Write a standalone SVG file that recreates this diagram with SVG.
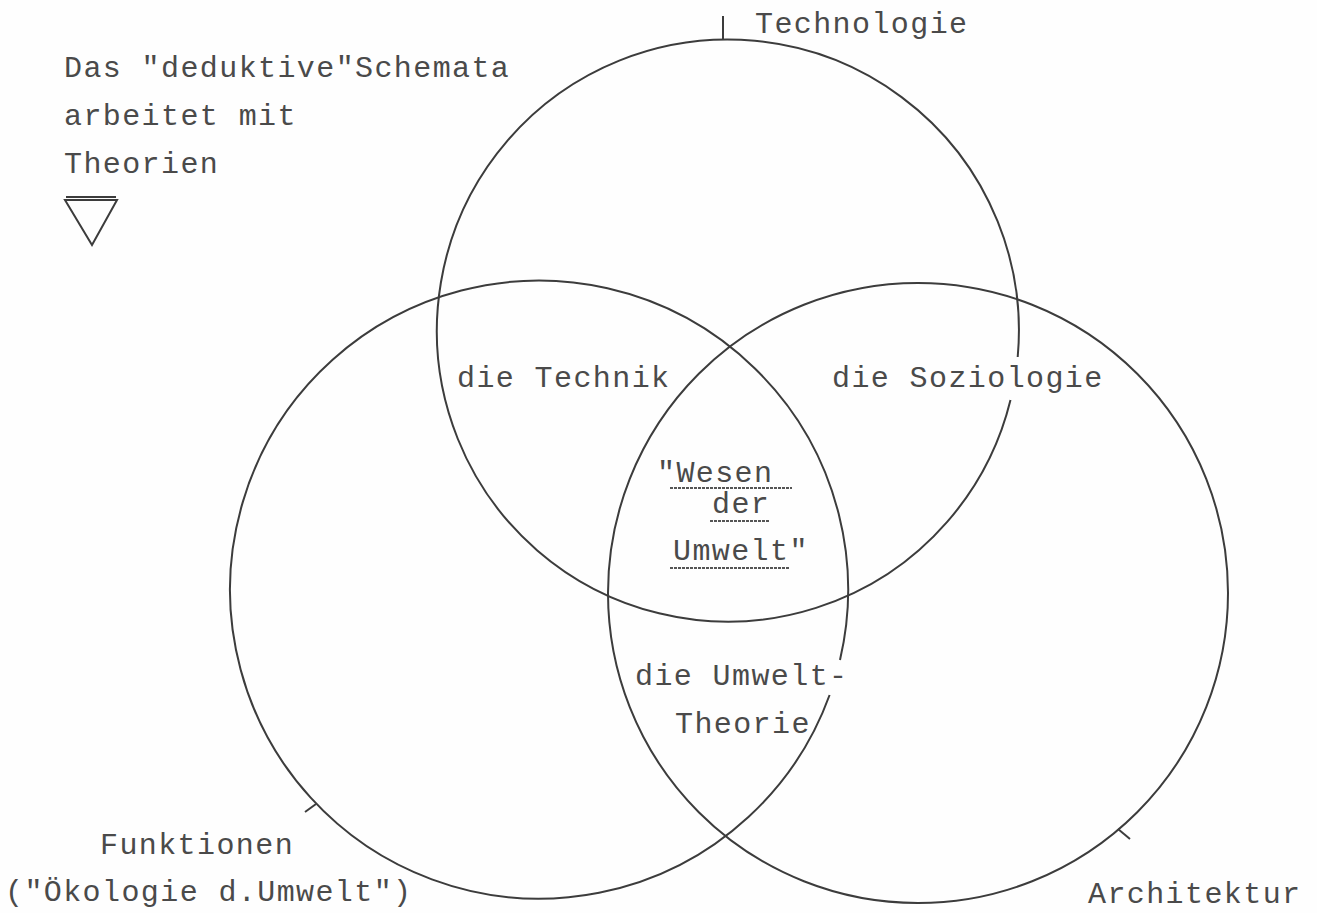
<svg xmlns="http://www.w3.org/2000/svg" width="1317" height="913" viewBox="0 0 1317 913">
<style>
.c{fill:none;stroke:#3c3c3c;stroke-width:2}
.t{font-family:"Liberation Mono","DejaVu Sans Mono",monospace;font-size:30px;letter-spacing:1.4px;fill:#4a4a4a}
.u{stroke:#555;stroke-width:2;stroke-dasharray:3 1}
</style>
<rect width="1317" height="913" fill="#fefefe"/>
<g id="intro">
<text class="t" x="64" y="77">Das "deduktive"Schemata</text>
<text class="t" x="64" y="125">arbeitet mit</text>
<text class="t" x="64" y="173">Theorien</text>
<path class="c" d="M65 200 L117 200 L92 245 Z"/>
<line class="c" x1="66" y1="197" x2="116" y2="197" stroke-width="1.5"/>
</g>
<g id="circle-technologie">
<path class="c" d="M1010.5 400 A291 291 0 1 1 1017.7 357"/>
<line class="c" x1="723" y1="16" x2="723" y2="39"/>
<text class="t" x="755" y="33">Technologie</text>
</g>
<g id="circle-funktionen">
<path class="c" d="M829.6 695 A309 309 0 1 1 840 660"/>
<line class="c" x1="316" y1="804" x2="305" y2="812"/>
<text class="t" x="100" y="854">Funktionen</text>
<text class="t" x="5" y="901">("Ökologie d.Umwelt")</text>
</g>
<g id="circle-architektur">
<circle class="c" cx="918" cy="593" r="310"/>
<line class="c" x1="1118" y1="829" x2="1130" y2="839"/>
<text class="t" x="1088" y="903">Architektur</text>
</g>
<g id="technik">
<text class="t" x="457" y="387">die Technik</text>
</g>
<g id="soziologie">
<text class="t" x="832" y="387">die Soziologie</text>
</g>
<g id="wesen">
<text class="t" x="657" y="482">"Wesen</text>
<line class="u" x1="670" y1="488" x2="792" y2="488"/>
<text class="t" x="712" y="513">der</text>
<line class="u" x1="710" y1="521" x2="770" y2="521"/>
<text class="t" x="673" y="560">Umwelt"</text>
<line class="u" x1="670" y1="568" x2="790" y2="568"/>
</g>
<g id="umwelt-theorie">
<text class="t" x="635" y="685">die Umwelt-</text>
<text class="t" x="675" y="733">Theorie</text>
</g>
<g id="connectors"></g>
</svg>
